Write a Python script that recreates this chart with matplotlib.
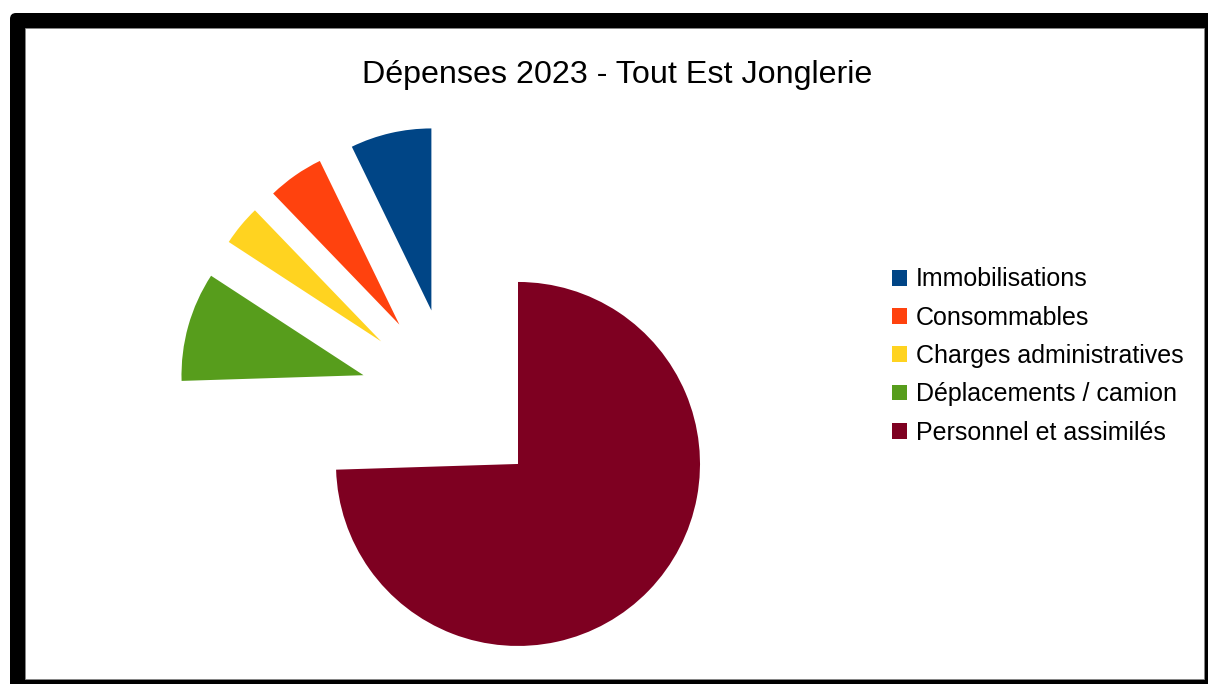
import matplotlib
matplotlib.use("Agg")
import matplotlib.pyplot as plt
from matplotlib.patches import FancyBboxPatch, Rectangle

plt.rcParams['font.family'] = ['Liberation Sans', 'DejaVu Sans']

# Data (shares of 2023 expenses, %)
categories = ["Immobilisations", "Consommables", "Charges administratives",
              "Déplacements / camion", "Personnel et assimilés"]
values = [7.2, 5.0, 3.6, 9.7, 74.5]
colors = ["#004586", "#ff420e", "#ffd320", "#579d1c", "#7e0021"]
title = "Dépenses 2023 - Tout Est Jonglerie"

W, H = 1208, 684
fig = plt.figure(figsize=(W / 100, H / 100), dpi=100)
fig.patch.set_facecolor("white")

# background frame (pixel coordinates, y downward)
bg = fig.add_axes([0, 0, 1, 1])
bg.set_xlim(0, W)
bg.set_ylim(H, 0)
bg.axis("off")
bg.add_patch(FancyBboxPatch((10, 13), 1240, 700, boxstyle="round,pad=0,rounding_size=6",
                            facecolor="black", edgecolor="none"))
bg.add_patch(Rectangle((25, 28), 1204 - 25, 679 - 28, facecolor="white",
                       edgecolor="#888888", linewidth=0.6))

# pie axes: 1 data unit = radius in pixels
R = 182.0
cx, cy = 452.0, 400.0  # pie centre in pixels (y downward)
ax = fig.add_axes([0, 0, 1, 1])
ax.patch.set_visible(False)
wedges, _ = ax.pie(values, colors=colors, startangle=90, counterclock=True,
                   explode=[0.505] * len(values), radius=1.0,
                   wedgeprops=dict(linewidth=0))
ax.set_aspect("auto")
ax.set_xlim(-cx / R, (W - cx) / R)
ax.set_ylim(-(H - cy) / R, cy / R)
ax.axis("off")

fig.text(617 / W, 1 - 83 / H, title, ha="center", va="baseline", fontsize=23.2)

leg = fig.legend(wedges, categories, loc="upper left",
                 bbox_to_anchor=(891.5 / W, 1 - 267.5 / H), frameon=False,
                 fontsize=18.0, handlelength=0.6, handleheight=0.6,
                 handletextpad=0.38, labelspacing=0.57, borderpad=0,
                 borderaxespad=0)

fig.savefig("out.png", dpi=100)
